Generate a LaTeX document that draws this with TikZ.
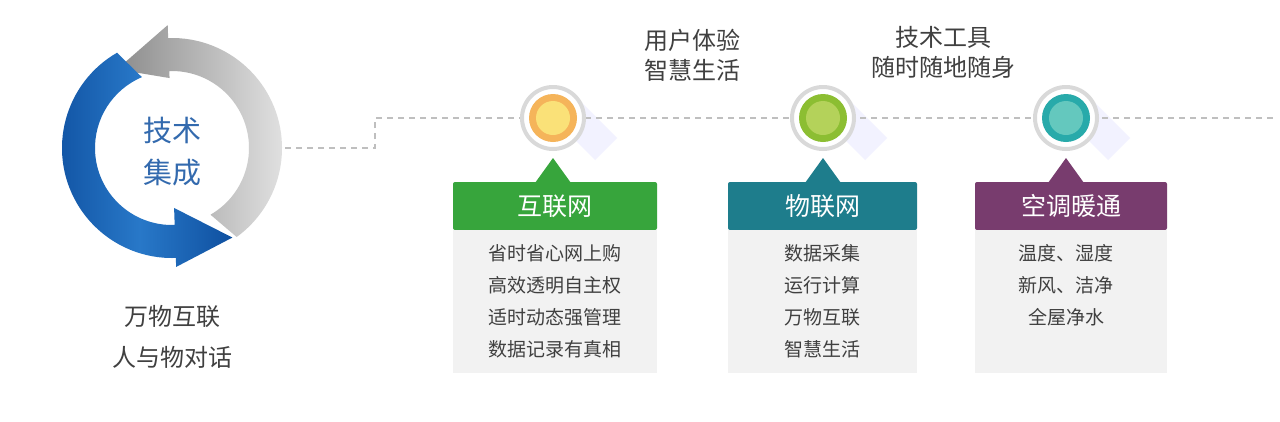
\documentclass[tikz,border=0pt]{standalone}
\usepackage{fontspec}
\setmainfont{Noto Sans CJK SC}
\begin{document}
\begin{tikzpicture}[x=1pt,y=-1pt,
  dline/.style={draw=black!25,line width=1.5pt,dash pattern=on 6pt off 5pt},
  hdr/.style={rounded corners=2pt,minimum height=48pt,text=white,font=\fontsize{25}{26}\selectfont},
  body/.style={fill=black!5,align=center,font=\fontsize{19}{32}\selectfont,text=black!75,anchor=north},
  top/.style={align=center,font=\fontsize{24}{30}\selectfont,text=black!75},
  ring/.style={circle,draw=black!15,line width=4pt,fill=white,minimum size=62pt,inner sep=0pt}]
\definecolor{cgreen}{RGB}{55,165,60}
\definecolor{cteal}{RGB}{30,125,140}
\definecolor{cpurple}{RGB}{120,60,110}
\definecolor{cblue}{RGB}{15,80,160}
\definecolor{cbluel}{RGB}{40,120,200}
\definecolor{o1}{RGB}{245,180,90}\definecolor{o2}{RGB}{250,225,120}
\definecolor{g1}{RGB}{140,190,50}\definecolor{g2}{RGB}{180,210,90}
\definecolor{t1}{RGB}{40,170,170}\definecolor{t2}{RGB}{100,200,190}
\useasboundingbox[fill=white] (0,0) rectangle (1280,421);
% circle shadows
\foreach \x in {553,823,1066}{
  \fill[blue!5] (\x+22,96) -- ++(42,42) -- ++(-22,22) -- ++(-42,-42) -- cycle;
}
% dashed line
\coordinate (d0) at (285,148);
\coordinate (d1) at (375,148);
\coordinate (d2) at (375,118);
\coordinate (d3) at (1275,118);
\draw[dline] (d0) -- (d1) -- (d2) -- (d3);
% cycle
\begin{scope}[shift={(172,148)},y=1pt]
\shade[left color=black!45,right color=black!12]
  (-60:77) arc[start angle=-60,end angle=92,radius=77] -- (92:70) -- (125:96) -- (92:123) -- (92:110)
  arc[start angle=92,end angle=-54,radius=110] -- cycle;
\shade[left color=cblue,right color=cblue,middle color=cbluel]
  (120:110) arc[start angle=120,end angle=272,radius=110] -- (272:119) -- (-56:108) -- (272:60) -- (272:77)
  arc[start angle=272,end angle=113,radius=77] -- cycle;
\node[text=cblue!85,align=center,font=\fontsize{29}{42}\selectfont] (core) at (0,-4) {技术\\集成};
\end{scope}
\node[top,font=\fontsize{24}{41}\selectfont] (lt) at (172,337) {万物互联\\人与物对话};
% top texts
\node[top] (t1) at (692,55) {用户体验\\智慧生活};
\node[top] (t2) at (943,52) {技术工具\\随时随地随身};
% circles
\foreach \n/\x/\ca/\cb in {c1/553/o1/o2, c2/823/g1/g2, c3/1066/t1/t2}{
  \node[ring] (\n) at (\x,118) {};
  \fill[\ca] (\x,118) circle (24);
  \fill[\cb] (\x,118) circle (17);
}
% headers
\node[hdr,fill=cgreen,minimum width=204pt] (h1) at (555,206) {互联网};
\node[hdr,fill=cteal,minimum width=189pt] (h2) at (822.5,206) {物联网};
\node[hdr,fill=cpurple,minimum width=192pt] (h3) at (1071,206) {空调暖通};
\fill[cgreen] (535,183) -- (553,158) -- (571,183) -- cycle;
\fill[cteal] (805,183) -- (823,158) -- (841,183) -- cycle;
\fill[cpurple] (1048,183) -- (1066,158) -- (1084,183) -- cycle;
% bodies
\node[body,minimum width=204pt,minimum height=143pt] (b1) at (555,230) {};
\node[body,minimum width=189pt,minimum height=143pt] (b2) at (822.5,230) {};
\node[body,minimum width=192pt,minimum height=143pt] (b3) at (1071,230) {};
\node[body,anchor=north,fill=none] (x1) at (555,241) {省时省心网上购\\高效透明自主权\\适时动态强管理\\数据记录有真相};
\node[body,anchor=north,fill=none] (x2) at (822.5,241) {数据采集\\运行计算\\万物互联\\智慧生活};
\node[body,anchor=north,fill=none] (x3) at (1066,241) {温度、湿度\\新风、洁净\\全屋净水};
\end{tikzpicture}
\end{document}
